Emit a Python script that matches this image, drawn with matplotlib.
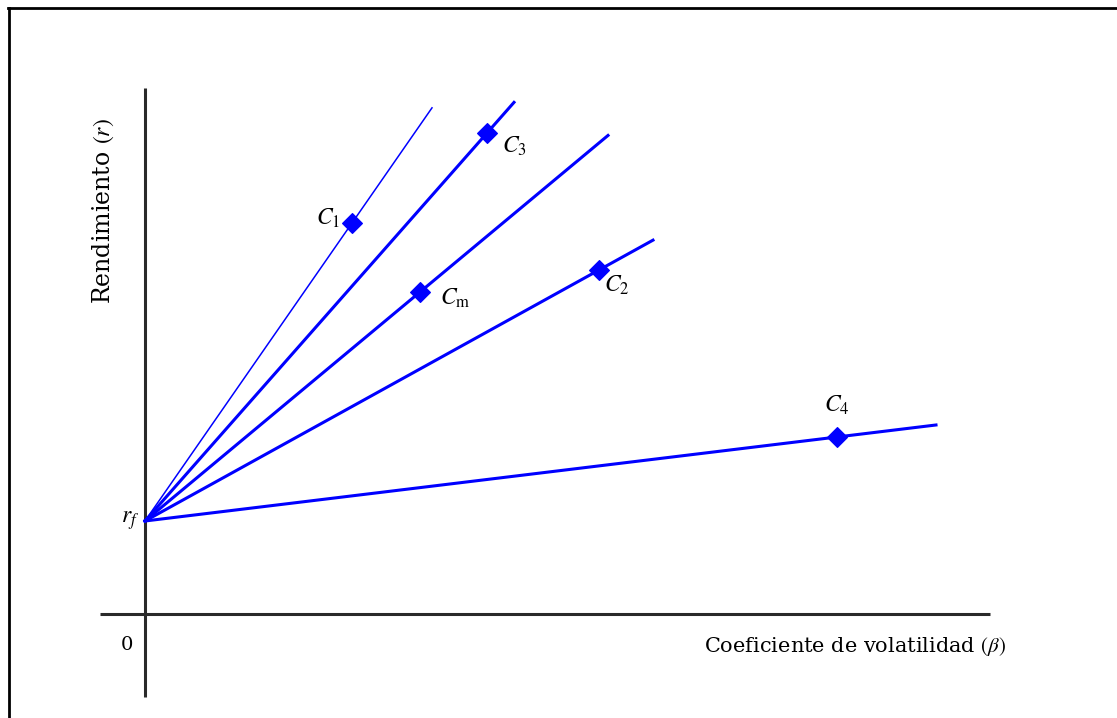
import numpy as np
import matplotlib.pyplot as plt
from matplotlib.lines import Line2D

plt.rcParams['font.family'] = ['DejaVu Serif']
plt.rcParams['mathtext.fontset'] = 'stix'

# Datos (beta, rendimiento)
rf = 0.93
carteras = ['C_1', 'C_3', 'C_{\\mathrm{m}}', 'C_2', 'C_4']
beta_cartera = [2.07, 3.42, 2.75, 4.54, 6.92]
rend_cartera = [3.91, 4.81, 3.22, 3.44, 1.77]
beta_fin = [2.87, 3.69, 4.63, 5.08, 7.91]   # donde termina cada recta
grosor = [1.1, 2.2, 2.2, 2.2, 2.2]
# posicion de las etiquetas respecto al punto (en beta, rendimiento)
desp_etiqueta = [(-0.24, 0.05), (0.27, -0.13), (0.35, -0.06), (0.18, -0.15), (0.0, 0.32)]

fig = plt.figure(figsize=(11.17, 7.18), dpi=100)
ax = fig.add_axes([0, 0, 1, 1])
ax.set_xlim(-1.45, 9.72)
ax.set_ylim(-1.04, 6.14)
ax.axis('off')

# ejes
ax.plot([-0.45, 8.45], [0, 0], color='#2a2a2a', lw=2.2, solid_capstyle='butt')
ax.plot([0, 0], [-0.83, 5.26], color='#2a2a2a', lw=2.2, solid_capstyle='butt')

# rectas de mercado de cada cartera
for nombre, bx, ry, bf, lw, (dx, dy) in zip(carteras, beta_cartera, rend_cartera,
                                            beta_fin, grosor, desp_etiqueta):
    pendiente = (ry - rf) / bx
    xs = np.array([0, bf])
    ax.plot(xs, rf + pendiente * xs, color='#0000ff', lw=lw)
    ax.plot(bx, ry, marker='D', markersize=10.5, color='#0000ff',
            markeredgewidth=0.8)
    ax.text(bx + dx, ry + dy, '$' + nombre + '$', fontsize=17,
            ha='center', va='center')

ax.text(-0.15, rf, '$r_f$', fontsize=17, ha='center', va='center')
ax.text(-0.18, -0.31, '0', fontsize=14, ha='center', va='center')
ax.text(7.1, -0.33, r'Coeficiente de volatilidad $(\beta)$', fontsize=15,
        ha='center', va='center')
ax.text(-0.42, 4.03, r'Rendimiento $(r)$', fontsize=17, rotation=90,
        ha='center', va='center')

# marco (solo borde superior e izquierdo visibles)
fig.add_artist(Line2D([8 / 1117, 1], [1 - 8 / 718, 1 - 8 / 718],
                      transform=fig.transFigure, color='black', lw=2))
fig.add_artist(Line2D([9 / 1117, 9 / 1117], [0, 1 - 8 / 718],
                      transform=fig.transFigure, color='black', lw=2))

fig.savefig('out.png', dpi=100)
